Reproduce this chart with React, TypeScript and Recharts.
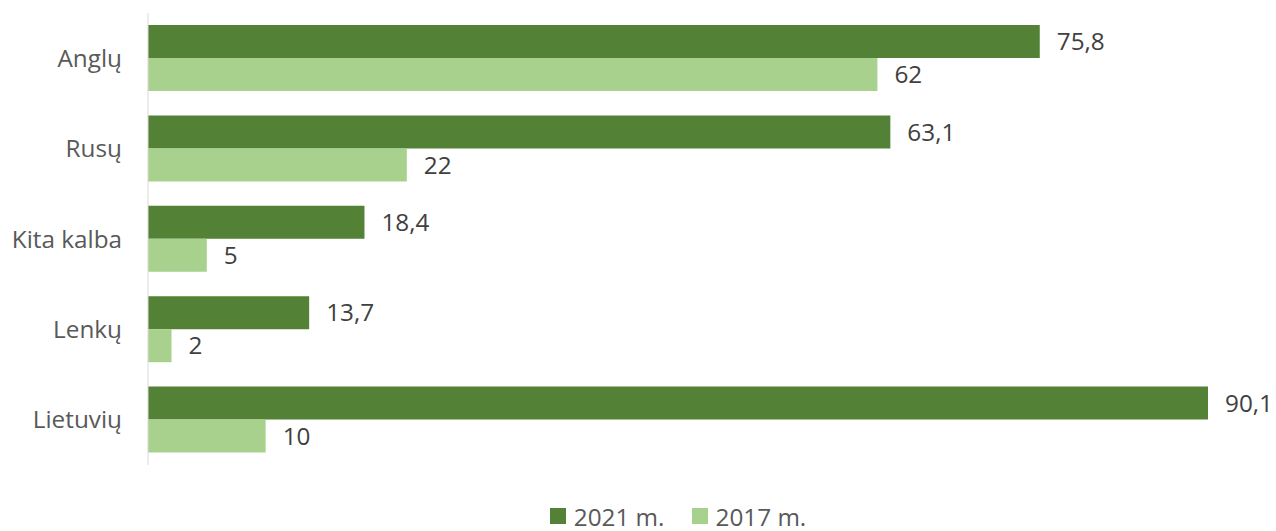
import React from 'react';
import { BarChart, Bar, XAxis, YAxis, Legend, LabelList } from 'recharts';

const categories = ['Anglų', 'Rusų', 'Kita kalba', 'Lenkų', 'Lietuvių'];
const values2021 = [75.8, 63.1, 18.4, 13.7, 90.1];
const values2017 = [62, 22, 5, 2, 10];
const seriesNames = ['2021 m.', '2017 m.'];

const COLOR_2021 = '#538135';
const COLOR_2017 = '#A9D18E';
const FONT = '"Open Sans", sans-serif';
const FS = 24.3;

const data = categories.map((c, i) => ({ name: c, v2021: values2021[i], v2017: values2017[i] }));

const fmt = (v: any) => String(v).replace('.', ',');

const renderLegend = () => (
  <div style={{ height: 66, boxSizing: 'border-box', paddingLeft: 148, paddingRight: 68, display: 'flex', alignItems: 'flex-end', justifyContent: 'center', fontFamily: FONT, fontSize: FS, color: '#595959' }}>
    {[COLOR_2021, COLOR_2017].map((col, i) => (
      <div key={i} style={{ display: 'flex', alignItems: 'center', marginRight: i === 0 ? 27 : 0, height: 30 }}>
        <div style={{ width: 16, height: 16, background: col, marginRight: 8 }} />
        <span>{seriesNames[i]}</span>
      </div>
    ))}
  </div>
);

export default function App() {
  return (
    <div style={{ position: 'absolute', left: 0, top: 0, width: 1276, height: 531, background: '#fff' }}>
      <BarChart
        width={1276}
        height={531}
        data={data}
        layout="vertical"
        margin={{ top: 13, right: 68, bottom: 0, left: 0 }}
        barGap={0}
      >
        <XAxis type="number" domain={[0, 'dataMax']} hide />
        <YAxis
          type="category"
          dataKey="name"
          width={148}
          tickLine={false}
          axisLine={{ stroke: '#D9D9D9', strokeWidth: 1 }}
          tickMargin={20}
          tick={{ fill: '#595959', fontFamily: FONT, fontSize: FS }}
        />
        <Legend verticalAlign="bottom" content={renderLegend} wrapperStyle={{ left: 0, width: 1276 }} />
        <Bar dataKey="v2021" name={seriesNames[0]} fill={COLOR_2021} barSize={33} isAnimationActive={false}>
          <LabelList dataKey="v2021" position="right" offset={17} formatter={fmt} style={{ fill: '#404040', fontFamily: FONT, fontSize: FS }} />
        </Bar>
        <Bar dataKey="v2017" name={seriesNames[1]} fill={COLOR_2017} barSize={33} isAnimationActive={false}>
          <LabelList dataKey="v2017" position="right" offset={17} formatter={fmt} style={{ fill: '#404040', fontFamily: FONT, fontSize: FS }} />
        </Bar>
      </BarChart>
    </div>
  );
}
